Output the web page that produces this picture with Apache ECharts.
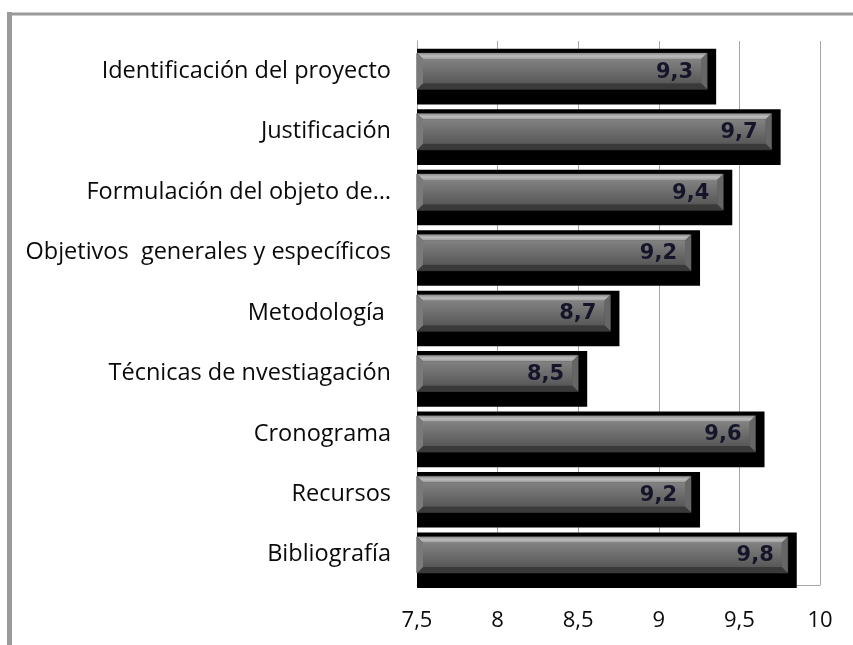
<!DOCTYPE html>
<html>
<head>
<meta charset="utf-8">
<script src="https://cdn.jsdelivr.net/npm/echarts@6/dist/echarts.min.js"></script>
<style>html,body{margin:0;padding:0;background:#fff;}#c{width:853px;height:645px;}</style>
</head>
<body>
<div id="c"></div>
<script>
const categories = [
  'Identificación del proyecto',
  'Justificación',
  'Formulación del objeto de…',
  'Objetivos  generales y específicos',
  'Metodología ',
  'Técnicas de nvestiagación',
  'Cronograma',
  'Recursos',
  'Bibliografía'
];
const values = [9.3, 9.7, 9.4, 9.2, 8.7, 8.5, 9.6, 9.2, 9.8];
const xTicks = { min: 7.5, max: 10, interval: 0.5 };

const FONT = '"Open Sans"';
const chart = echarts.init(document.getElementById('c'));

function renderBar(params, api) {
  const v = api.value(0);
  const idx = api.value(1);
  const endPt = api.coord([v, idx]);
  const x0 = params.coordSys.x;
  const band = api.size([0, 1])[1];
  const yc = endPt[1];
  const h = band * 0.6;
  const top = yc - h / 2;
  const bottom = yc + h / 2;
  const xe = endPt[0];
  const b = 6;
  const label = String(v.toFixed(1)).replace('.', ',');
  return {
    type: 'group',
    children: [
      { type: 'rect', shape: { x: x0, y: yc - band * 0.37, width: xe - x0 + 9, height: band * 0.92 },
        style: { fill: '#000' } },
      { type: 'rect', shape: { x: x0, y: top, width: xe - x0, height: h },
        style: { fill: '#4a4a4a', stroke: '#2a2a2a', lineWidth: 1 } },
      { type: 'polygon', shape: { points: [[x0, top], [xe, top], [xe - b, top + b], [x0 + b, top + b]] },
        style: { fill: new echarts.graphic.LinearGradient(0, 0, 0, 1, [{ offset: 0, color: '#8c8c8c' }, { offset: 0.5, color: '#bcbcbc' }, { offset: 1, color: '#9c9c9c' }]) } },
      { type: 'polygon', shape: { points: [[xe, top], [xe, bottom], [xe - b, bottom - b], [xe - b, top + b]] },
        style: { fill: '#666666' } },
      { type: 'polygon', shape: { points: [[x0, bottom], [xe, bottom], [xe - b, bottom - b], [x0 + b, bottom - b]] },
        style: { fill: '#3a3a3a' } },
      { type: 'polygon', shape: { points: [[x0, top], [x0 + b, top + b], [x0 + b, bottom - b], [x0, bottom]] },
        style: { fill: '#7a7a7a' } },
      { type: 'rect', shape: { x: x0 + b, y: top + b, width: xe - x0 - 2 * b, height: h - 2 * b },
        style: { fill: new echarts.graphic.LinearGradient(0, 0, 0, 1, [{ offset: 0, color: '#828282' }, { offset: 1, color: '#585858' }]) } },
      { type: 'text', style: { text: label, x: xe - 14, y: yc + 1, align: 'right', verticalAlign: 'middle',
        fill: '#15152a', font: 'bold 21px "DejaVu Sans"' } }
    ]
  };
}

chart.setOption({
  animation: false,
  backgroundColor: '#fff',
  grid: { left: 417, right: 33, top: 41, bottom: 60, containLabel: false },
  xAxis: {
    type: 'value', min: xTicks.min, max: xTicks.max, interval: xTicks.interval,
    axisLine: { show: true, lineStyle: { color: '#a6a6a6', width: 1 } },
    axisTick: { show: false },
    splitLine: { show: true, lineStyle: { color: '#a6a6a6', width: 1 } },
    axisLabel: { color: '#0a0a0a', fontFamily: FONT, fontSize: 22, margin: 25,
      formatter: v => String(v).replace('.', ',') }
  },
  yAxis: {
    type: 'category', data: categories, inverse: true,
    axisLine: { show: true, lineStyle: { color: '#a6a6a6', width: 1 } },
    axisTick: { show: false },
    axisLabel: { color: '#0a0a0a', fontFamily: FONT, fontSize: 23.5, margin: 26, padding: [7, 0, 0, 0] }
  },
  series: [{
    type: 'custom',
    renderItem: renderBar,
    encode: { x: 0, y: 1 },
    data: values.map((v, i) => [v, i]),
    clip: false
  }],
  graphic: [
    { type: 'line', shape: { x1: 9.5, y1: 12, x2: 9.5, y2: 645 }, style: { stroke: '#9a9a9a', lineWidth: 5 } },
    { type: 'line', shape: { x1: 8, y1: 14, x2: 853, y2: 14 }, style: { stroke: '#9a9a9a', lineWidth: 3 } }
  ]
});
</script>
</body>
</html>
